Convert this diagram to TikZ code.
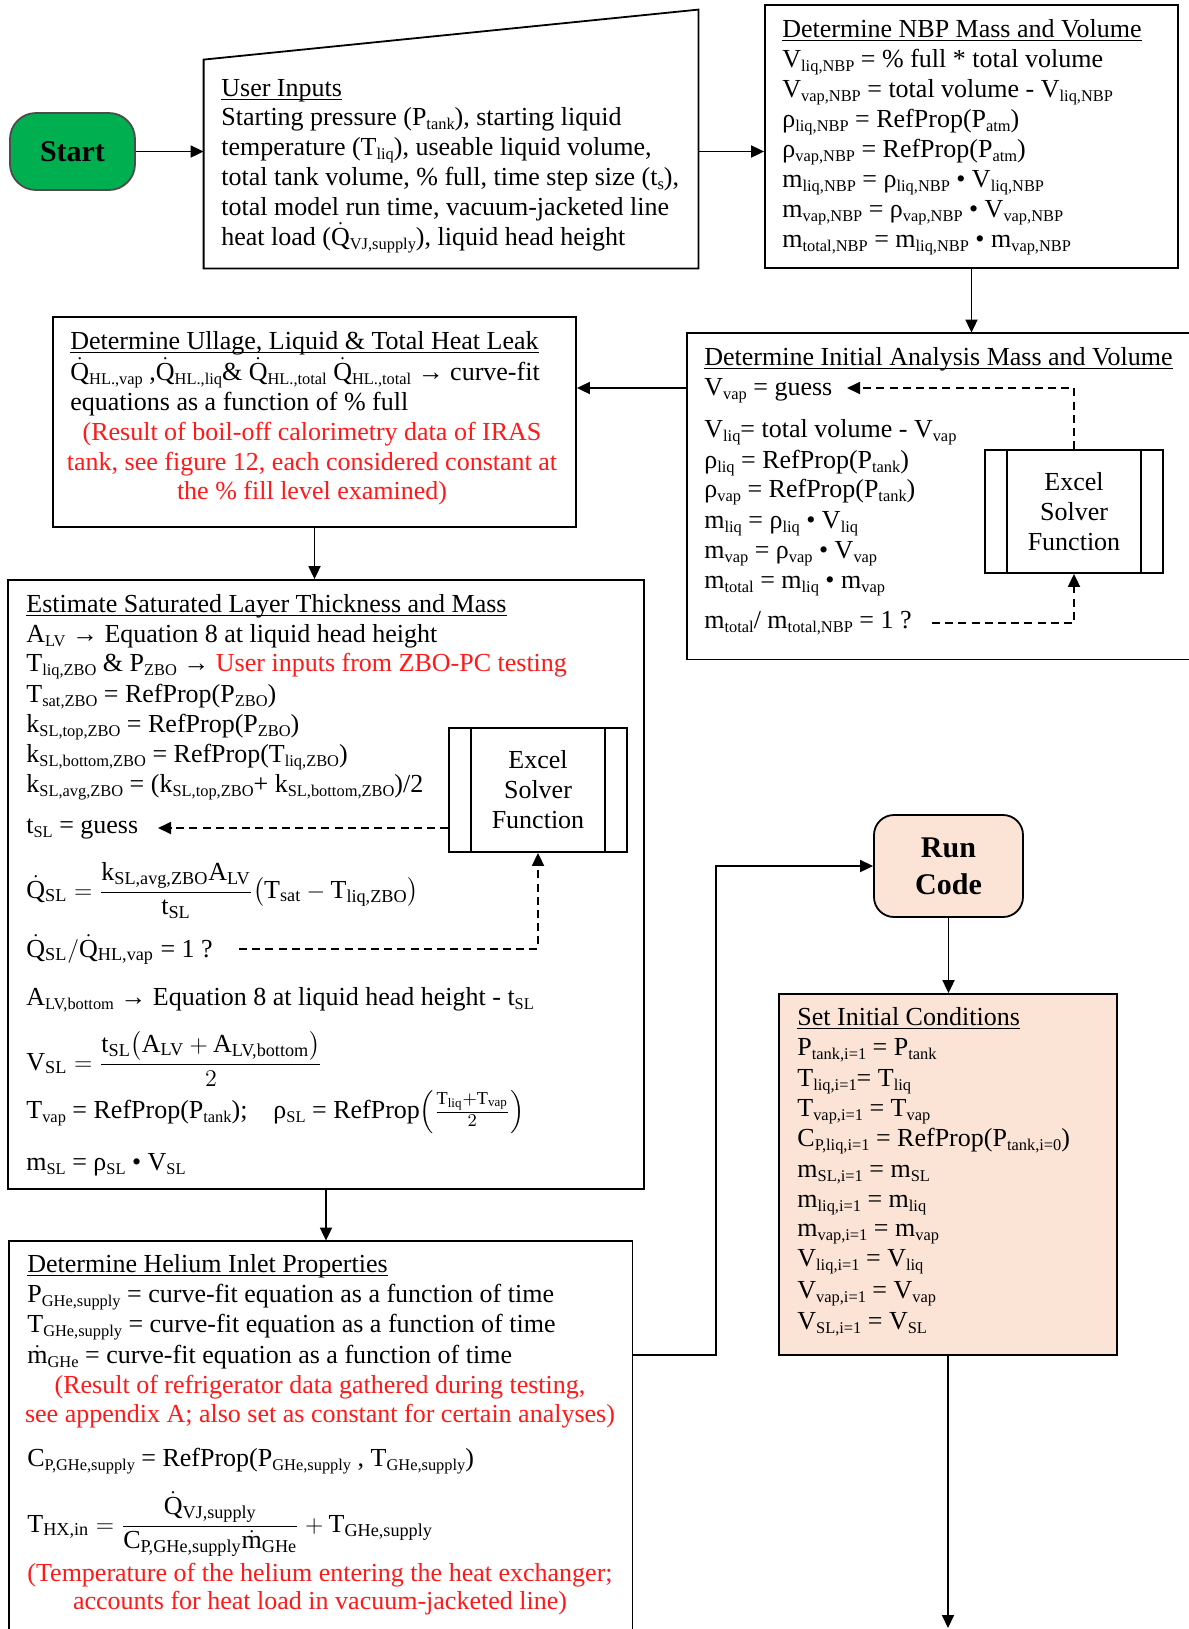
\documentclass[tikz,border=0pt]{standalone}
\usepackage{amsmath}
\usepackage{fontspec}
\setmainfont{Liberation Serif}
\usetikzlibrary{arrows.meta,fit,calc}
\definecolor{startgreen}{RGB}{0,176,80}
\definecolor{peach}{RGB}{251,228,214}
\definecolor{notered}{RGB}{255,25,25}
\newcommand{\sbs}[1]{\raisebox{-2.3pt}{\fontsize{8.2}{9}\selectfont #1}}
\newcommand{\myQd}{\ensuremath{\smash[t]{\dot{\text{Q}}}}}
\newcommand{\mymd}{\ensuremath{\smash[t]{\dot{\text{m}}}}}
\newcommand{\tx}[1]{\text{#1}}
\newcommand{\ttl}[1]{\leavevmode\setbox0\hbox{#1}\rlap{\rule[-1.9pt]{\wd0}{0.6pt}}\box0}
\begin{document}
\begin{tikzpicture}[x=0.5pt,y=-0.5pt,
  box/.style={draw,line width=0.9pt,inner sep=0pt},
  ghost/.style={inner sep=0pt},
  ln/.style={anchor=base west,inner sep=0pt,font=\fontsize{13}{15}\selectfont},
  rednote/.style={anchor=base,inner sep=0pt,text=notered,font=\fontsize{13}{15}\selectfont},
  solver/.style={align=center,inner sep=0pt,font=\fontsize{13}{15}\selectfont},
  arr/.style={draw,line width=0.9pt,-{Triangle[length=6.5pt,width=6pt]}},
  dsh/.style={draw,line width=0.9pt,dash pattern=on 4pt off 2.6pt,-{Triangle[length=6.5pt,width=6pt]}},
  edge/.style={draw,line width=0.9pt}]
\fill[white] (0,0) rectangle (1189,1629);
\useasboundingbox (0,0) rectangle (1189,1629);

% ---------- Start ----------
\node[draw=black!70,line width=0.9pt,fill=startgreen,rounded corners=13pt,minimum width=62.5pt,minimum height=38.5pt,inner sep=0pt,font=\fontsize{15}{18}\selectfont\bfseries] (start) at (72.5,151.5) {Start};

% ---------- User inputs (manual input shape) ----------
\node[ghost,fit={(204,10) (698,268)}] (ui) {};
\draw[edge] (ui.south west) -- ($(ui.north west)+(0,50)$) -- (ui.north east) -- (ui.south east) -- cycle;
\node[ln] (ui0) at (221,96) {\ttl{User Inputs}};
\node[ln] (ui1) at (221,125) {Starting pressure (P\sbs{tank}), starting liquid};
\node[ln] (ui2) at (221,155) {temperature (T\sbs{liq}), useable liquid volume,};
\node[ln] (ui3) at (221,185) {total tank volume, \% full, time step size (t\sbs{s}),};
\node[ln] (ui4) at (221,215) {total model run time, vacuum-jacketed line};
\node[ln] (ui5) at (221,245) {heat load (\myQd\sbs{VJ,supply}), liquid head height};

% ---------- NBP ----------
\node[box,fit={(765,5) (1178,268)}] (nbp) {};
\node[ln] (nb0) at (782,37) {\ttl{Determine NBP Mass and Volume}};
\node[ln] (nb1) at (782,67) {V\sbs{liq,NBP} = \% full * total volume};
\node[ln] (nb2) at (782,97) {V\sbs{vap,NBP} = total volume - V\sbs{liq,NBP}};
\node[ln] (nb3) at (782,127) {ρ\sbs{liq,NBP} = RefProp(P\sbs{atm})};
\node[ln] (nb4) at (782,157) {ρ\sbs{vap,NBP} = RefProp(P\sbs{atm})};
\node[ln] (nb5) at (782,187) {m\sbs{liq,NBP} = ρ\sbs{liq,NBP} • V\sbs{liq,NBP}};
\node[ln] (nb6) at (782,217) {m\sbs{vap,NBP} = ρ\sbs{vap,NBP} • V\sbs{vap,NBP}};
\node[ln] (nb7) at (782,247) {m\sbs{total,NBP} = m\sbs{liq,NBP} • m\sbs{vap,NBP}};

% ---------- Initial analysis ----------
\node[ghost,fit={(687,333) (1189,659)}] (init) {};
\draw[edge] (init.north east) -- (init.north west) -- (init.south west) -- (init.south east);
\node[ln] (in0) at (704,365) {\ttl{Determine Initial Analysis Mass and Volume}};
\node[ln] (in1) at (704,395) {V\sbs{vap} = guess};
\node[ln] (in2) at (704,437) {V\sbs{liq}= total volume - V\sbs{vap}};
\node[ln] (in3) at (704,468) {ρ\sbs{liq} = RefProp(P\sbs{tank})};
\node[ln] (in4) at (704,497) {ρ\sbs{vap} = RefProp(P\sbs{tank})};
\node[ln] (in5) at (704,528) {m\sbs{liq} = ρ\sbs{liq} • V\sbs{liq}};
\node[ln] (in6) at (704,558) {m\sbs{vap} = ρ\sbs{vap} • V\sbs{vap}};
\node[ln] (in7) at (704,588) {m\sbs{total} = m\sbs{liq} • m\sbs{vap}};
\node[ln] (in8) at (704,628) {m\sbs{total}/ m\sbs{total,NBP} = 1 ?};
\node[box,fit={(985,450) (1163,573)}] (xs1) {};
\draw[edge] ([xshift=11.5pt]xs1.north west) -- ([xshift=11.5pt]xs1.south west);
\draw[edge] ([xshift=-11.5pt]xs1.north east) -- ([xshift=-11.5pt]xs1.south east);
\node[solver] (xs1t) at (xs1.center) {Excel\\Solver\\Function};
\coordinate (vg) at (847,388);
\coordinate (mt) at (932,623);
\draw[dsh] (xs1.north) |- (vg);
\draw[dsh] (mt) -| (xs1.south);

% ---------- Ullage ----------
\node[box,fit={(53,317) (576,527)}] (ull) {};
\node[ln] (ul0) at (70,349) {\ttl{Determine Ullage, Liquid \& Total Heat Leak}};
\node[ln] (ul1) at (70,380) {\myQd\sbs{HL.,vap} ,\myQd\sbs{HL.,liq}\& \myQd\sbs{HL.,total} \myQd\sbs{HL.,total} → curve-fit};
\node[ln] (ul2) at (70,410) {equations as a function of \% full};
\node[rednote] (ul3) at (312,440) {(Result of boil-off calorimetry data of IRAS};
\node[rednote] (ul4) at (312,470) {tank, see figure 12, each considered constant at};
\node[rednote] (ul5) at (312,499) {the \% fill level examined)};

% ---------- Estimate saturated layer ----------
\node[box,fit={(8,580) (644,1189)}] (est) {};
\node[ln] (e0) at (26,612) {\ttl{Estimate Saturated Layer Thickness and Mass}};
\node[ln] (e1) at (26,642) {A\sbs{LV} → Equation 8 at liquid head height};
\node[ln] (e2) at (26,671) {T\sbs{liq,ZBO} \& P\sbs{ZBO} → \textcolor{notered}{User inputs from ZBO-PC testing}};
\node[ln] (e3) at (26,702) {T\sbs{sat,ZBO} = RefProp(P\sbs{ZBO})};
\node[ln] (e4) at (26,732) {k\sbs{SL,top,ZBO} = RefProp(P\sbs{ZBO})};
\node[ln] (e5) at (26,762) {k\sbs{SL,bottom,ZBO} = RefProp(T\sbs{liq,ZBO})};
\node[ln] (e6) at (26,792) {k\sbs{SL,avg,ZBO} = (k\sbs{SL,top,ZBO}+ k\sbs{SL,bottom,ZBO})/2};
\node[ln] (e7) at (26,833) {t\sbs{SL} = guess};
\node[ln] (e8) at (26,898) {$\myQd_{\tx{SL}} = \dfrac{\tx{k}_{\tx{SL,avg,ZBO}}\tx{A}_{\tx{LV}}}{\tx{t}_{\tx{SL}}}\bigl(\tx{T}_{\tx{sat}} - \tx{T}_{\tx{liq,ZBO}}\bigr)$};
\node[ln] (e9) at (26,957) {$\myQd_{\tx{SL}}/\myQd_{\tx{HL,vap}}$ = 1 ?};
\node[ln] (e10) at (26,1005) {A\sbs{LV,bottom} → Equation 8 at liquid head height - t\sbs{SL}};
\node[ln] (e11) at (26,1070) {$\tx{V}_{\tx{SL}} = \dfrac{\tx{t}_{\tx{SL}}\bigl(\tx{A}_{\tx{LV}} + \tx{A}_{\tx{LV,bottom}}\bigr)}{2}$};
\node[ln] (e12) at (26,1118) {T\sbs{vap} = RefProp(P\sbs{tank});\hspace{1em}ρ\sbs{SL} = RefProp$\left(\frac{\tx{T}_{\tx{liq}}+\tx{T}_{\tx{vap}}}{2}\right)$};
\node[ln] (e13) at (26,1170) {m\sbs{SL} = ρ\sbs{SL} • V\sbs{SL}};
\node[box,fit={(449,728) (627,852)}] (xs2) {};
\draw[edge] ([xshift=11.5pt]xs2.north west) -- ([xshift=11.5pt]xs2.south west);
\draw[edge] ([xshift=-11.5pt]xs2.north east) -- ([xshift=-11.5pt]xs2.south east);
\node[solver] (xs2t) at (xs2.center) {Excel\\Solver\\Function};
\coordinate (tg) at (158,828);
\coordinate (qq) at (239,949);
\draw[dsh] (xs2.west |- tg) -- (tg);
\draw[dsh] (qq) -| (xs2.south);

% ---------- Helium inlet ----------
\node[ghost,fit={(9,1241) (632,1629)}] (hel) {};
\draw[edge] (hel.south west) -- (hel.north west) -- (hel.north east) -- (hel.south east);
\node[ln] (h0) at (27,1272) {\ttl{Determine Helium Inlet Properties}};
\node[ln] (h1) at (27,1302) {P\sbs{GHe,supply} = curve-fit equation as a function of time};
\node[ln] (h2) at (27,1332) {T\sbs{GHe,supply} = curve-fit equation as a function of time};
\node[ln] (h3) at (27,1363) {\mymd\sbs{GHe} = curve-fit equation as a function of time};
\node[rednote] (h4) at (320,1393) {(Result of refrigerator data gathered during testing,};
\node[rednote] (h5) at (320,1422) {see appendix A; also set as constant for certain analyses)};
\node[ln] (h6) at (27,1466) {C\sbs{P,GHe,supply} = RefProp(P\sbs{GHe,supply} , T\sbs{GHe,supply})};
\node[ln] (h7) at (27,1532) {$\tx{T}_{\tx{HX,in}} = \dfrac{\myQd_{\tx{VJ,supply}}}{\tx{C}_{\tx{P,GHe,supply}}\mymd_{\tx{GHe}}} + \tx{T}_{\tx{GHe,supply}}$};
\node[rednote] (h8) at (320,1581) {(Temperature of the helium entering the heat exchanger;};
\node[rednote] (h9) at (320,1609) {accounts for heat load in vacuum-jacketed line)};

% ---------- Run code ----------
\node[draw,line width=0.9pt,fill=peach,rounded corners=10pt,minimum width=74.5pt,minimum height=51pt,inner sep=0pt,align=center,font=\fontsize{15}{18.5}\selectfont\bfseries] (run) at (948.5,866) {Run\\Code};

% ---------- Set initial conditions ----------
\node[box,fill=peach,fit={(779,994) (1117,1355)}] (sic) {};
\node[ln] (s0) at (797,1025) {\ttl{Set Initial Conditions}};
\node[ln] (s1) at (797,1055) {P\sbs{tank,i=1} = P\sbs{tank}};
\node[ln] (s2) at (797,1086) {T\sbs{liq,i=1}= T\sbs{liq}};
\node[ln] (s3) at (797,1116) {T\sbs{vap,i=1} = T\sbs{vap}};
\node[ln] (s4) at (797,1146) {C\sbs{P,liq,i=1} = RefProp(P\sbs{tank,i=0})};
\node[ln] (s5) at (797,1177) {m\sbs{SL,i=1} = m\sbs{SL}};
\node[ln] (s6) at (797,1207) {m\sbs{liq,i=1} = m\sbs{liq}};
\node[ln] (s7) at (797,1236) {m\sbs{vap,i=1} = m\sbs{vap}};
\node[ln] (s8) at (797,1266) {V\sbs{liq,i=1} = V\sbs{liq}};
\node[ln] (s9) at (797,1298) {V\sbs{vap,i=1} = V\sbs{vap}};
\node[ln] (s10) at (797,1329) {V\sbs{SL,i=1} = V\sbs{SL}};

% ---------- Connectors ----------
\draw[arr] (start.east) -- (start.east -| ui.west);
\draw[arr] (ui.east |- start) -- (nbp.west |- start);
\draw[arr] (nbp.south) -- (nbp.south |- init.north);
\draw[arr] (init.west |- vg) -- (ull.east |- vg);
\draw[arr] (ull.south) -- (ull.south |- est.north);
\draw[arr] (est.south) -- (est.south |- hel.north);
\coordinate (bend) at (716,1355);
\draw[arr] (hel.east |- bend) -- (bend) |- (run.west);
\draw[arr] (run.south) -- (run.south |- sic.north);
\coordinate (endpt) at (948,1628);
\draw[arr] (sic.south) -- (endpt);
\end{tikzpicture}
\end{document}
